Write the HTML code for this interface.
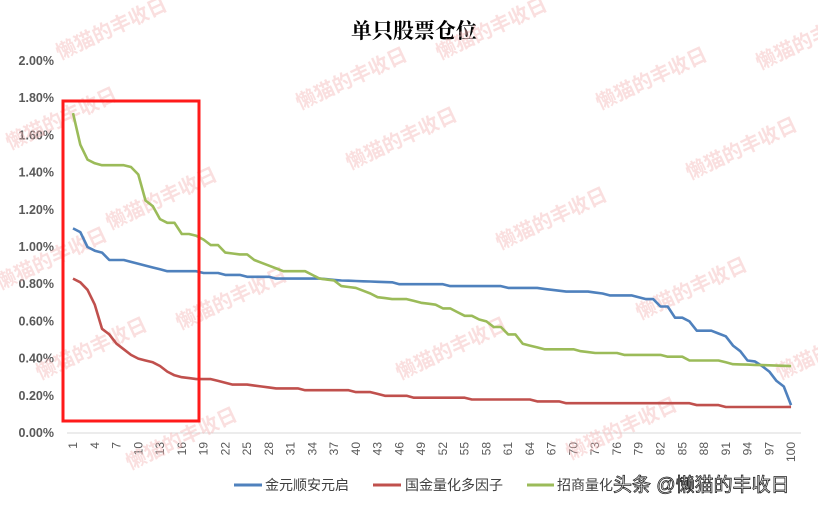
<!DOCTYPE html>
<html><head><meta charset="utf-8"><style>
body{margin:0;background:#fff;width:818px;height:509px;overflow:hidden}
svg{display:block}
text{font-family:"Liberation Sans","Noto Sans CJK SC",sans-serif}
</style></head><body>
<svg id="s" width="818" height="509" xmlns="http://www.w3.org/2000/svg">
<text x="414" y="38" text-anchor="middle" font-size="21" font-weight="bold" fill="#000" style="font-family:'Liberation Serif','Noto Serif CJK SC',serif">单只股票仓位</text>
<g id="grid"></g>
<g id="wm" fill="#f4b8b8" font-size="20" font-weight="bold" opacity="0.45"></g>
<g id="series" fill="none" stroke-width="2.6" stroke-linejoin="round"></g>
<rect x="63" y="101" width="136" height="320" fill="none" stroke="#ff1a1a" stroke-width="3"/>
<g font-size="14" fill="#404040">
<line x1="234" y1="485" x2="262" y2="485" stroke="#4f81bd" stroke-width="3"/><text x="265" y="490">金元顺安元启</text>
<line x1="373" y1="485" x2="401" y2="485" stroke="#c0504d" stroke-width="3"/><text x="405" y="490">国金量化多因子</text>
<line x1="527" y1="485" x2="554" y2="485" stroke="#9bbb59" stroke-width="3"/><text x="557" y="490">招商量化</text>
</g>
<text x="613" y="491" font-size="19" fill="#fff" stroke="#222" stroke-width="0.8">头条 @懒猫的丰收日</text>
</svg>
<script>
var s=document.getElementById('s'),g=document.getElementById('grid'),NS='http://www.w3.org/2000/svg';
function el(t,a,p,txt){var e=document.createElementNS(NS,t);for(var k in a)e.setAttribute(k,a[k]);if(txt)e.textContent=txt;(p||g).appendChild(e);return e;}
function X(i){return 73+(i-1)*7.253;}function Y(v){return 433-v*186;}
el('line',{x1:67,y1:433,x2:801,y2:433,stroke:'#d9d9d9','stroke-width':1});
for(var k=0;k<=10;k++){var v=k*0.2;el('text',{x:54,y:Y(v)+4,'text-anchor':'end','font-size':12.5,'font-weight':'bold',fill:'#595959'},g,v.toFixed(2)+'%');}
for(var i=1;i<=100;i+=3){var x=X(i);el('text',{transform:'translate('+(x+4)+',442) rotate(-90)','text-anchor':'end','font-size':12,fill:'#595959'},g,String(i));}
var wm=document.getElementById('wm');
[[60,60],[440,60],[600,110],[350,170],[10,150],[110,230],[690,180],[760,70],[0,290],[640,320],[40,380],[400,380],[130,470],[570,460],[780,380],[300,110],[500,250],[180,330]].forEach(function(p){el('text',{transform:'translate('+p[0]+','+p[1]+') rotate(-25)'},wm,'懒猫的丰收日');});
function series(kp,c){var pts=[];for(var j=0;j<kp.length-1;j++){var a=kp[j],b=kp[j+1];for(var i=a[0];i<b[0];i++){pts.push(X(i).toFixed(1)+','+Y(a[1]+(b[1]-a[1])*(i-a[0])/(b[0]-a[0])).toFixed(1));}}var l=kp[kp.length-1];pts.push(X(l[0])+','+Y(l[1]));el('polyline',{points:pts.join(' '),stroke:c},document.getElementById('series'));}
series([[1,1.10],[2,1.08],[3,1.00],[4,0.98],[5,0.97],[6,0.93],[8,0.93],[9,0.92],[10,0.91],[11,0.90],[12,0.89],[13,0.88],[14,0.87],[18,0.87],[19,0.86],[21,0.86],[22,0.85],[24,0.85],[25,0.84],[28,0.84],[29,0.83],[35,0.83],[38,0.82],[45,0.81],[46,0.80],[52,0.80],[53,0.79],[60,0.79],[61,0.78],[65,0.78],[67,0.77],[69,0.76],[72,0.76],[74,0.75],[75,0.74],[78,0.74],[80,0.72],[81,0.72],[82,0.68],[83,0.68],[84,0.62],[85,0.62],[86,0.60],[87,0.55],[89,0.55],[91,0.52],[92,0.47],[93,0.44],[94,0.39],[95,0.385],[96,0.36],[97,0.33],[98,0.28],[99,0.25],[100,0.15]],'#4f81bd');
series([[1,0.83],[2,0.81],[3,0.77],[4,0.69],[5,0.56],[6,0.53],[7,0.48],[8,0.45],[9,0.42],[10,0.40],[11,0.39],[12,0.38],[13,0.36],[14,0.33],[15,0.31],[16,0.30],[18,0.29],[20,0.29],[21,0.28],[23,0.26],[25,0.26],[27,0.25],[29,0.24],[32,0.24],[33,0.23],[39,0.23],[40,0.22],[42,0.22],[43,0.21],[44,0.20],[47,0.20],[48,0.19],[55,0.19],[56,0.18],[64,0.18],[65,0.17],[68,0.17],[69,0.16],[86,0.16],[87,0.15],[90,0.15],[91,0.14],[100,0.14]],'#c0504d');
series([[1,1.72],[2,1.55],[3,1.47],[4,1.45],[5,1.44],[8,1.44],[9,1.43],[10,1.39],[11,1.25],[12,1.22],[13,1.15],[14,1.13],[15,1.13],[16,1.07],[17,1.07],[18,1.06],[19,1.04],[20,1.01],[21,1.01],[22,0.97],[24,0.96],[25,0.96],[26,0.93],[28,0.90],[30,0.87],[33,0.87],[35,0.83],[37,0.82],[38,0.79],[40,0.78],[42,0.75],[43,0.73],[45,0.72],[47,0.72],[49,0.70],[51,0.69],[52,0.67],[53,0.67],[55,0.63],[56,0.63],[57,0.61],[58,0.60],[59,0.57],[60,0.57],[61,0.53],[62,0.53],[63,0.48],[64,0.47],[66,0.45],[70,0.45],[71,0.44],[73,0.43],[76,0.43],[77,0.42],[82,0.42],[83,0.41],[85,0.41],[86,0.39],[90,0.39],[91,0.38],[92,0.37],[100,0.36]],'#9bbb59');
</script>
</body></html>
